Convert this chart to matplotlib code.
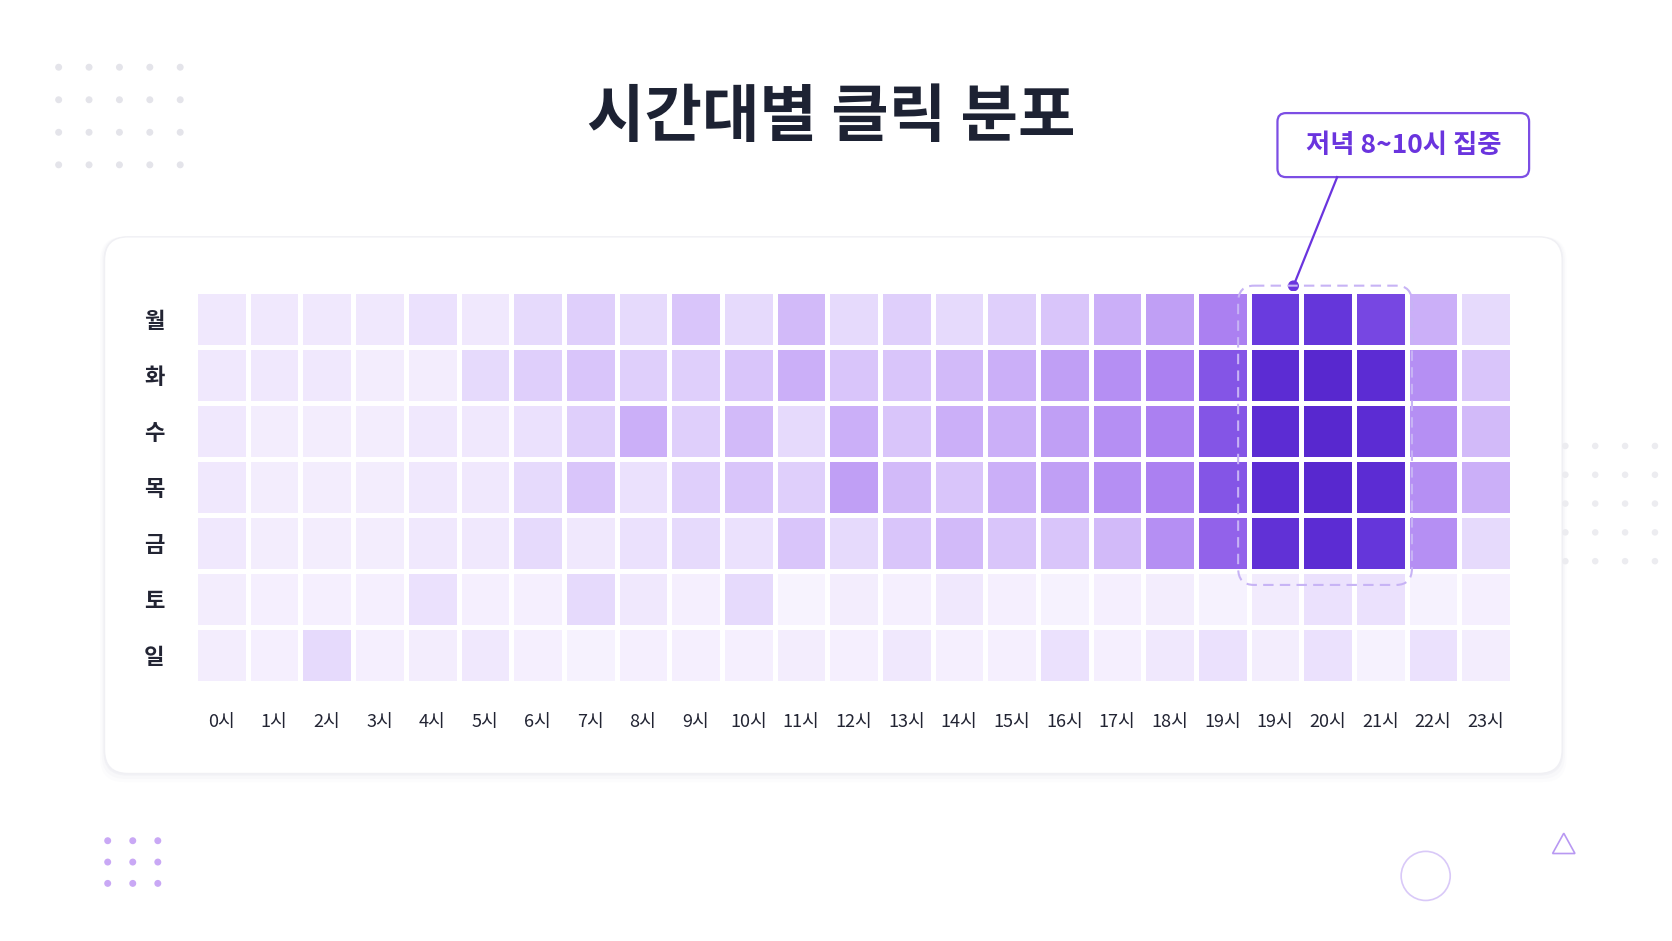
import numpy as np
import matplotlib.pyplot as plt
from matplotlib.colors import LinearSegmentedColormap
from matplotlib.patches import FancyBboxPatch, Circle, Polygon

plt.rcParams['font.family'] = ['Noto Sans CJK KR', 'DejaVu Sans']

days = ['월', '화', '수', '목', '금', '토', '일']
hours = ['0시', '1시', '2시', '3시', '4시', '5시', '6시', '7시', '8시', '9시', '10시', '11시',
         '12시', '13시', '14시', '15시', '16시', '17시', '18시', '19시', '19시', '20시', '21시',
         '22시', '23시']
mon = [1, 1, 1, 1, 1.5, 1, 2, 2.5, 2, 3, 2, 3.5, 2, 2.5, 2, 2.5, 3, 4, 4.5, 5.5, 8, 8.5, 7.5, 4, 2]
tue = [1, 1, 1, 0.7, 0.7, 2, 2.5, 3, 2.5, 2.5, 3, 4, 3, 3, 3.5, 4, 4.5, 5, 5.5, 7, 9.5, 10, 9.5, 5, 3]
wed = [1, 0.7, 0.7, 0.7, 1, 1, 1.5, 2.5, 4, 2.5, 3.5, 2, 4, 3, 4, 4, 4.5, 5, 5.5, 7, 9.5, 10, 9.5, 5, 3.5]
thu = [1, 0.7, 0.7, 0.7, 1, 1, 2, 3, 1.5, 2.5, 3, 2.5, 4.5, 3.5, 3, 4, 4.5, 5, 5.5, 7, 9.5, 10, 9.5, 5, 4]
fri = [1, 0.7, 0.7, 0.7, 1, 1, 2, 1, 1.5, 2, 1.5, 3, 2, 3, 3.5, 3, 3, 3.5, 5, 6.5, 9, 9.5, 8.5, 5, 2]
sat = [0.7, 0.5, 0.5, 0.5, 1.5, 0.5, 0.5, 2, 1, 0.5, 2, 0.2, 0.7, 0.5, 1, 0.5, 0.3, 0.5, 0.7, 0.3, 0.8, 1.5, 1.5, 0.3, 0.5]
sun = [0.7, 0.5, 2, 0.5, 0.7, 1, 0.5, 0.3, 0.5, 0.5, 0.5, 0.7, 0.5, 1, 0.5, 0.5, 1.5, 0.5, 1, 1.5, 0.7, 1.5, 0.3, 1.5, 0.7]
values = np.array([mon, tue, wed, thu, fri, sat, sun])

cmap = LinearSegmentedColormap.from_list(
    'purp', ['#f9f6fe', '#e6dafc', '#cbaff8', '#a070ee', '#6a3bde', '#5828cf'])

W, H = 1568, 882
fig = plt.figure(figsize=(16.72, 9.41), dpi=100)
fig.patch.set_facecolor('white')
bg = fig.add_axes([0, 0, 1, 1])
bg.set_xlim(0, W)
bg.set_ylim(H, 0)
bg.axis('off')

# card with soft shadow
for k, a in [(8, 0.08), (5, 0.12), (2, 0.2)]:
    bg.add_patch(FancyBboxPatch((98 - k / 2, 222), 1367 + k, 503 + k,
                                boxstyle='round,pad=0,rounding_size=22',
                                fc='#dcdce6', ec='none', alpha=a, zorder=0))
bg.add_patch(FancyBboxPatch((98, 222), 1367, 503, boxstyle='round,pad=0,rounding_size=22',
                            fc='white', ec='#f0f0f4', lw=1, zorder=1))

# decorations
for i in range(5):
    for j in range(4):
        bg.add_patch(Circle((55 + i * 28.5, 63 + j * 30.5), 2.6, color='#e4e4ea', zorder=1))
for i in range(3):
    for j in range(3):
        bg.add_patch(Circle((101 + i * 23.5, 788 + j * 20), 2.6, color='#c9a8f5', zorder=1))
for i in range(4):
    for j in range(5):
        bg.add_patch(Circle((1468 + i * 28, 418 + j * 27), 2.4, color='#ececf0', zorder=1))
bg.add_patch(Circle((1337, 821), 23, fill=False, ec='#d9c9f8', lw=1.2))
bg.add_patch(Polygon([[1456, 800], [1477, 800], [1466.5, 781]], closed=True,
                     fill=False, ec='#b898f2', lw=1.2))

bg.text(780, 110, '시간대별 클릭 분포', ha='center', va='center', fontsize=45,
        fontweight='heavy', color='#1d2233')

# heatmap
x0, x1, y0, y1 = 183, 1418, 273, 640
ax = fig.add_axes([x0 / W, 1 - y1 / H, (x1 - x0) / W, (y1 - y0) / H])
ax.pcolormesh(values, cmap=cmap, vmin=0, vmax=10, edgecolors='white', linewidth=3.5)
ax.set_xlim(0, values.shape[1])
ax.set_ylim(values.shape[0], 0)
for s in ax.spines.values():
    s.set_visible(False)
ax.set_xticks(np.arange(len(hours)) + 0.5)
ax.set_xticklabels(hours, fontsize=13, color='#222433')
ax.set_yticks(np.arange(len(days)) + 0.5)
ax.set_yticklabels(days, fontsize=16, fontweight='bold', color='#222433')
ax.tick_params(length=0)
ax.tick_params(axis='x', pad=22)
ax.tick_params(axis='y', pad=22)

# highlight
ax.add_patch(FancyBboxPatch((19.8, -0.1), 3.3, 5.35, boxstyle='round,pad=0,rounding_size=0.3',
                            fill=False, ec='#c7b3f5', lw=1.5, ls=(0, (5, 3)), clip_on=False))

# callout
bg.add_patch(FancyBboxPatch((1198, 106), 236, 60, boxstyle='round,pad=0,rounding_size=8',
                            fc='white', ec='#7c4ee4', lw=1.6, zorder=3))
bg.text(1316, 136, '저녁 8~10시 집중', ha='center', va='center', fontsize=19,
        fontweight='bold', color='#6a34de', zorder=4)
bg.plot([1254, 1213], [166, 268], color='#6a34de', lw=1.6, zorder=3)
bg.add_patch(Circle((1213, 268), 4.5, color='#6a34de', zorder=4))

fig.savefig('out.png', dpi=100, facecolor=fig.get_facecolor())
